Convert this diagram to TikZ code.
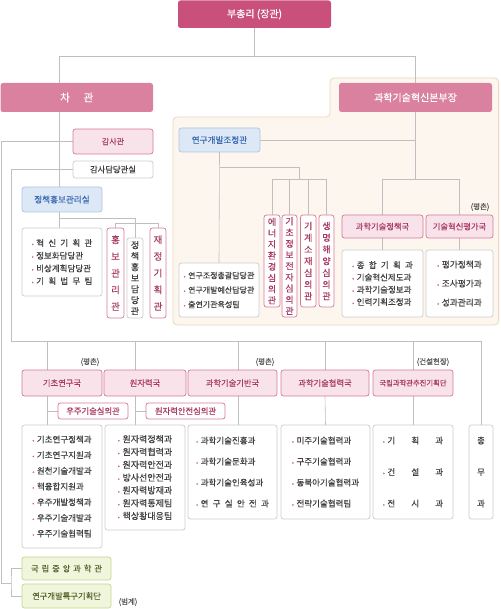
\documentclass[tikz,border=0pt]{standalone}
\usepackage{fontspec}
\setmainfont{Noto Sans CJK KR}[FakeBold=0.35]
\definecolor{topc}{HTML}{C9507B}
\definecolor{midc}{HTML}{D9819F}
\definecolor{pkd}{HTML}{D47A9B}
\definecolor{pkf}{HTML}{F9E3EB}
\definecolor{pkt}{HTML}{A93A62}
\definecolor{bld}{HTML}{AFC5E2}
\definecolor{blf}{HTML}{DDE8F6}
\definecolor{blt}{HTML}{3D6CB3}
\definecolor{grd}{HTML}{CCCCCC}
\definecolor{grt}{HTML}{404040}
\definecolor{gnd}{HTML}{C5D68E}
\definecolor{gnf}{HTML}{F0F6DB}
\definecolor{gnt}{HTML}{58622E}
\definecolor{lncol}{HTML}{BFBFBF}
\definecolor{panf}{HTML}{FDF6EE}
\definecolor{pand}{HTML}{EBD7BD}
\definecolor{bulc}{HTML}{D2608A}
\definecolor{notec}{HTML}{5A5A5A}
\newcommand\bu{{\color{bulc}\fontsize{6}{6}\selectfont •}\hspace{0.3em}}
\newcommand\gp{\hspace{0.5em}}
\newcommand\bx[7]{\node[#2, minimum width={#5-#3}, minimum height={#6-#4}] (#1) at ({(#3+#5)/2},{(#4+#6)/2}) {#7};}
\pgfdeclarelayer{panel}
\pgfdeclarelayer{bg}
\pgfsetlayers{panel,bg,main}
\begin{document}
\begin{tikzpicture}[x=1pt,y=-1pt,
 ln/.style={draw=lncol, line width=0.6pt},
 base/.style={inner sep=0pt, outer sep=0pt, rounded corners=2.5pt, line width=0.7pt, align=center},
 topbox/.style={base, fill=topc, text=white, font=\fontsize{10}{12}\selectfont},
 midbox/.style={base, fill=midc, text=white, font=\fontsize{10}{12}\selectfont},
 bur/.style={base, draw=pkd, fill=pkf, text=pkt, font=\fontsize{8.3}{10}\selectfont},
 pkw/.style={base, draw=pkd, fill=white, text=pkt, font=\fontsize{8.3}{10}\selectfont},
 blu/.style={base, draw=bld, fill=blf, text=blt, font=\fontsize{8.6}{10}\selectfont},
 gry/.style={base, draw=grd, fill=white, text=grt, font=\fontsize{8.3}{10}\selectfont},
 lst/.style={base, draw=grd, fill=white, text=grt, align=left},
 grn/.style={base, draw=gnd, fill=gnf, text=gnt, font=\fontsize{8.3}{10}\selectfont},
 note/.style={inner sep=0pt, text=notec, font=\fontsize{7.5}{9}\selectfont},
]
\useasboundingbox (0,0) rectangle (500,609);
\begin{pgfonlayer}{panel}
\fill[white] (0,0) rectangle (500,609);
\draw[draw=pand, fill=panf, line width=0.8pt, rounded corners=4pt]
  (173,117) -- (330,117) -- (330,78) -- (498.6,78) -- (498.6,325) -- (173,325) -- cycle;
\end{pgfonlayer}

% top level
\bx{top}{topbox}{178}{0.5}{331}{28}{부총리 (장관)}
\bx{cha}{midbox,font=\fontsize{10.5}{12}\selectfont}{0.5}{83}{153}{112}{차\hspace{1.3em}관}
\bx{bon}{midbox}{339}{83}{492}{112}{과학기술혁신본부장}

% vice minister side
\bx{gam}{bur,font=\fontsize{8}{10}\selectfont}{73}{129}{153}{154}{감사관}
\bx{gdam}{gry}{73}{161}{153}{178}{감사담당관실}
\bx{jeong}{blu}{22}{187}{102}{212}{정책홍보관리실}
\bx{hl}{lst,font=\fontsize{8.5}{12.7}\selectfont}{22}{228}{102}{296}{\bu 혁\gp 신\gp 기\gp 획\gp 관\\ \bu 정보화담당관\\ \bu 비상계획담당관\\ \bu 기\gp 획\gp 법\gp 무\gp 팀}
\bx{hb}{pkw,font=\fontsize{9.5}{16.7}\selectfont}{107}{228}{124}{318}{홍\\보\\관\\리\\관}
\bx{jd}{gry,font=\fontsize{9}{11}\selectfont}{127}{238}{143}{318}{정\\책\\홍\\보\\담\\당\\관}
\bx{jj}{pkw,font=\fontsize{9.5}{16.7}\selectfont}{150}{228}{166}{318}{재\\정\\기\\획\\관}

% innovation HQ side
\bx{yd}{blu}{179}{128}{260}{152}{연구개발조정관}
\bx{ydl}{lst,font=\fontsize{8}{14.5}\selectfont}{179}{263}{259}{317}{\bu 연구조정총괄담당관\\ \bu 연구개발예산담당관\\ \bu 출연기관육성팀}
\bx{s1}{pkw,font=\fontsize{9}{11.2}\selectfont}{264}{215}{280}{307}{에\\너\\지\\환\\경\\심\\의\\관}
\bx{s2}{pkw,font=\fontsize{9}{11.2}\selectfont}{282}{215}{297}{317}{기\\초\\정\\보\\전\\자\\심\\의\\관}
\bx{s3}{pkw,font=\fontsize{9}{11.7}\selectfont}{300.5}{215}{316}{307}{기\\계\\소\\재\\심\\의\\관}
\bx{s4}{pkw,font=\fontsize{9}{11.7}\selectfont}{319}{215}{334}{307}{생\\명\\해\\양\\심\\의\\관}
\bx{pol}{bur}{342}{215}{423}{238}{과학기술정책국}
\bx{eva}{bur}{426}{215}{493}{238}{기술혁신평가국}
\node[note] (n1) at (480,207) {(평촌)};
\bx{poll}{lst,font=\fontsize{8.5}{12.3}\selectfont}{342}{250}{423}{317}{\bu 종\gp 합\gp 기\gp 획\gp 과\\ \bu 기술혁신제도과\\ \bu 과학기술정보과\\ \bu 인력기획조정과}
\bx{eval}{lst,font=\fontsize{8.7}{19}\selectfont}{426}{250}{493}{317}{\bu 평가정책과\\ \bu 조사평가과\\ \bu 성과관리과}

% bureaus row
\node[note] (n2) at (90,362) {(평촌)};
\node[note] (n3) at (265,362) {(평촌)};
\node[note] (n4) at (433,362) {(건설현장)};
\bx{kc}{bur}{22}{370}{102}{396}{기초연구국}
\bx{wc}{bur}{104}{370}{186}{396}{원자력국}
\bx{bc}{bur}{188}{370}{277}{396}{과학기술기반국}
\bx{cc}{bur}{281}{370}{369}{396}{과학기술협력국}
\bx{nc}{bur,font=\fontsize{7.3}{9}\selectfont}{373}{370}{453}{396}{국립과학관추진기획단}
\bx{us}{pkw}{58}{403}{128}{419}{우주기술심의관}
\bx{ws}{pkw}{146}{403}{225}{419}{원자력안전심의관}
\bx{kl}{lst,font=\fontsize{8.5}{15.7}\selectfont}{22}{425}{102}{548}{\bu 기초연구정책과\\ \bu 기초연구지원과\\ \bu 원천기술개발과\\ \bu 핵융합지원과\\ \bu 우주개발정책과\\ \bu 우주기술개발과\\ \bu 우주기술협력팀}
\bx{wl}{lst,font=\fontsize{9}{12.8}\selectfont}{105}{425}{185}{530}{\bu 원자력정책과\\ \bu 원자력협력과\\ \bu 원자력안전과\\ \bu 방사선안전과\\ \bu 원자력방재과\\ \bu 원자력통제팀\\ \bu 핵상황대응팀}
\bx{bl}{lst,font=\fontsize{8.5}{21}\selectfont}{188}{425}{277}{519}{\bu 과학기술진흥과\\ \bu 과학기술문화과\\ \bu 과학기술인육성과\\ \bu 연\gp 구\gp 실\gp 안\gp 전\gp 과}
\bx{cl}{lst,font=\fontsize{8.5}{21}\selectfont}{281}{425}{370}{519}{\bu 미주기술협력과\\ \bu 구주기술협력과\\ \bu 동북아기술협력과\\ \bu 전략기술협력팀}
\bx{nl}{lst,font=\fontsize{8.5}{31.5}\selectfont}{373}{425}{453}{519}{\bu 기\hspace{1.9em}획\hspace{1.9em}과\\ \bu 건\hspace{1.9em}설\hspace{1.9em}과\\ \bu 전\hspace{1.9em}시\hspace{1.9em}과}
\bx{cm}{gry,font=\fontsize{8.5}{31.5}\selectfont}{469}{425}{493}{519}{총\\무\\과}

% green
\bx{g1}{grn}{22}{557}{111}{580}{국\hspace{0.35em}립\hspace{0.35em}중\hspace{0.35em}앙\hspace{0.35em}과\hspace{0.35em}학\hspace{0.35em}관}
\bx{g2}{grn}{22}{584}{111}{608}{연구개발특구기획단}
\node[note] (n5) at (128,602) {(범계)};

% connectors
\begin{pgfonlayer}{bg}
\coordinate (yA) at (0,56);
\coordinate (xL) at (59,0);
\coordinate (o1) at (1.5,583);
\coordinate (bk) at (11,583);
\coordinate (c11) at (11,341);
\coordinate (x47) at (47,0);
\coordinate (x135) at (135,0);
\coordinate (x238) at (238,0);
\coordinate (y179) at (0,179);
\coordinate (y167) at (0,167);
\coordinate (x299) at (299,0);
\coordinate (y218) at (0,218);
\coordinate (y223) at (0,223);

\draw[ln] (top.south) -- (top.south |- yA);
\draw[ln] (cha.north -| xL) -- (xL |- yA) -- (bon.north |- yA) -- (bon.north);
\draw[ln] (cha.south -| xL) -- (jeong.north -| xL);
\draw[ln] (gam.west) -| (o1) -- (bk);
\draw[ln] (g1.west) -| (bk) |- (g2.west);
\draw[ln] (gdam.west) -| (c11) -- (c11 -| cm.north) -- (cm.north);

\draw[ln] (jeong.south -| xL) -- (hl.north -| xL);
\draw[ln] (xL |- y218) -- (jd.north |- y218) -- (jd.north);
\draw[ln] (hb.north) -- (hb.north |- y223) -- (jj.north |- y223) -- (jj.north);

\draw[ln] (bon.south) -- (bon.south |- y179);
\draw[ln] (yd.east) -- (yd.east -| bon.south);
\draw[ln] (pol.north) -- (pol.north |- y179) -- (eva.north |- y179) -- (eva.north);
\draw[ln] (pol.south) -- (poll.north);
\draw[ln] (eva.south) -- (eval.north);
\draw[ln] (yd.south) -- (ydl.north);
\draw[ln] (yd.south |- y167) -- (x299 |- y167) -- (x299 |- y179);
\draw[ln] (s1.north) -- (s1.north |- y179) -- (s4.north |- y179) -- (s4.north);
\draw[ln] (s2.north) -- (s2.north |- y179);
\draw[ln] (s3.north) -- (s3.north |- y179);

\draw[ln] (x47 |- c11) -- (kc.north -| x47);
\draw[ln] (kc.south -| x47) -- (kl.north -| x47);
\draw[ln] (us.west) -- (us.west -| x47);
\draw[ln] (x135 |- c11) -- (wc.north -| x135);
\draw[ln] (wc.south -| x135) -- (wl.north -| x135);
\draw[ln] (ws.west) -- (ws.west -| x135);
\draw[ln] (x238 |- c11) -- (bc.north -| x238);
\draw[ln] (bc.south -| x238) -- (bl.north -| x238);
\draw[ln] (cc.north |- c11) -- (cc.north);
\draw[ln] (cc.south) -- (cl.north);
\draw[ln] (nc.north |- c11) -- (nc.north);
\draw[ln] (nc.south) -- (nl.north);
\end{pgfonlayer}
\end{tikzpicture}
\end{document}
